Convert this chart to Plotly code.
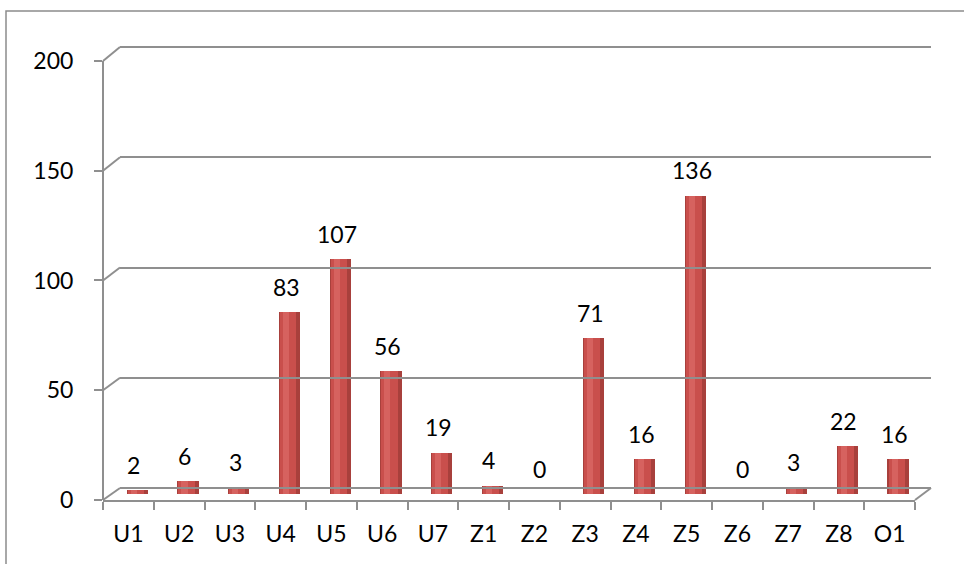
import plotly.graph_objects as go

categories = ["U1", "U2", "U3", "U4", "U5", "U6", "U7", "Z1", "Z2", "Z3", "Z4", "Z5", "Z6", "Z7", "Z8", "O1"]
values = [2, 6, 3, 83, 107, 56, 19, 4, 0, 71, 16, 136, 0, 3, 22, 16]
y_ticks = [0, 50, 100, 150, 200]

W, H = 964, 564
FONT = "Lato"
FS = 23
GRID = "#8f8f8f"

def px_x(p):
    return p / W

def px_y(p):
    return 1 - p / H

# front plane (axes), middle plane (bars), back plane (walls)
front_x = [103, 915]
front_y = [500, 61]      # pixel y of 0 and 200
mid_x = [111.5, 923]
mid_y = [494, 55]
back_x = [120, 931]
back_y = [488, 47]
YMAX = 200
PAD = 1.5  # extra range so the top gridline is drawn


def padded(py):
    per = (py[0] - py[1]) / YMAX
    return [py[0], py[1] - per * PAD]


fig = go.Figure()

# back wall (gridlines) activation trace
fig.add_trace(go.Scatter(x=[0, 1], y=[0, 0], xaxis="x3", yaxis="y3",
                         mode="markers", marker=dict(opacity=0), hoverinfo="skip"))
# front axes activation trace
fig.add_trace(go.Scatter(x=categories, y=values, xaxis="x", yaxis="y",
                         mode="markers", marker=dict(opacity=0), hoverinfo="skip"))

# cylinder-like bars: dark body + lighter inner highlight
fig.add_trace(go.Bar(x=categories, y=values, xaxis="x2", yaxis="y2",
                     marker=dict(color="#A8403C", line=dict(width=0)),
                     width=0.42, hoverinfo="skip"))
fig.add_trace(go.Bar(x=categories, y=values, xaxis="x2", yaxis="y2",
                     marker=dict(color="#C94F4C", line=dict(width=0)),
                     width=0.32, offset=-0.19, hoverinfo="skip"))
fig.add_trace(go.Bar(x=categories, y=values, xaxis="x2", yaxis="y2",
                     marker=dict(color="#D6625F", line=dict(width=0)),
                     width=0.12, offset=-0.13, hoverinfo="skip"))

annotations = []
for c, v in zip(categories, values):
    annotations.append(dict(x=c, y=v, xref="x2", yref="y2", text=str(v),
                            showarrow=False, yanchor="middle", yshift=25, xshift=-3,
                            font=dict(family=FONT, size=FS, color="black")))

shapes = []
# side-wall diagonals at each tick
for t in y_ticks:
    yf = front_y[0] + (front_y[1] - front_y[0]) * t / YMAX
    yb = back_y[0] + (back_y[1] - back_y[0]) * t / YMAX
    shapes.append(dict(type="line", xref="paper", yref="paper",
                       x0=px_x(front_x[0]), y0=px_y(yf), x1=px_x(back_x[0]), y1=px_y(yb),
                       line=dict(color=GRID, width=2), layer="below"))
# floor right diagonal
shapes.append(dict(type="line", xref="paper", yref="paper",
                   x0=px_x(front_x[1]), y0=px_y(front_y[0]), x1=px_x(back_x[1]), y1=px_y(back_y[0]),
                   line=dict(color=GRID, width=2), layer="below"))
# front vertical axis line from 0 to 200
shapes.append(dict(type="line", xref="paper", yref="paper",
                   x0=px_x(front_x[0]), y0=px_y(front_y[0]), x1=px_x(front_x[0]), y1=px_y(front_y[1]),
                   line=dict(color=GRID, width=2), layer="below"))
# outer chart border
shapes.append(dict(type="rect", xref="paper", yref="paper",
                   x0=px_x(6), y0=px_y(11), x1=px_x(975), y1=px_y(580),
                   line=dict(color="#8c8c8c", width=1.5), layer="below"))

n = len(categories)
fy = padded(front_y)
by = padded(back_y)
my = padded(mid_y)
fig.update_layout(
    width=W, height=H, margin=dict(l=0, r=0, t=0, b=0, autoexpand=False),
    paper_bgcolor="white", plot_bgcolor="rgba(0,0,0,0)",
    showlegend=False, barmode="overlay", bargap=0,
    font=dict(family=FONT, size=FS, color="black"),
    annotations=annotations, shapes=shapes,
    # front axes
    xaxis=dict(domain=[px_x(front_x[0]), px_x(front_x[1])], anchor="y", automargin=False,
               type="category", categoryarray=categories, range=[-0.5, n - 0.5],
               showline=True, linecolor=GRID, linewidth=2,
               ticks="outside", ticklen=8, tickwidth=2, tickcolor=GRID,
               tickson="boundaries", showgrid=False, ticklabelstandoff=12,
               tickfont=dict(family=FONT, size=FS, color="black")),
    yaxis=dict(domain=[px_y(fy[0]), px_y(fy[1])], anchor="x", automargin=False,
               range=[0, YMAX + PAD], tickvals=y_ticks,
               showline=False,
               ticks="outside", ticklen=8, tickwidth=2, tickcolor=GRID,
               showgrid=False, zeroline=False, ticklabelstandoff=16,
               tickfont=dict(family=FONT, size=FS, color="black")),
    # bar plane
    xaxis2=dict(domain=[px_x(mid_x[0]), px_x(mid_x[1])], anchor="y2", automargin=False,
                type="category", categoryarray=categories, range=[-0.5, n - 0.5],
                visible=False),
    yaxis2=dict(domain=[px_y(my[0]), px_y(my[1])], anchor="x2", automargin=False,
                range=[0, YMAX + PAD], visible=False),
    # back wall
    xaxis3=dict(domain=[px_x(back_x[0]), px_x(back_x[1])], anchor="y3", automargin=False,
                range=[0, 1], visible=False),
    yaxis3=dict(domain=[px_y(by[0]), px_y(by[1])], anchor="x3", automargin=False,
                range=[0, YMAX + PAD], tickvals=y_ticks, showgrid=True,
                gridcolor=GRID, gridwidth=2, zeroline=True, zerolinecolor=GRID,
                zerolinewidth=2, showticklabels=False, ticks="", showline=False),
)

fig.write_html("out.html")
